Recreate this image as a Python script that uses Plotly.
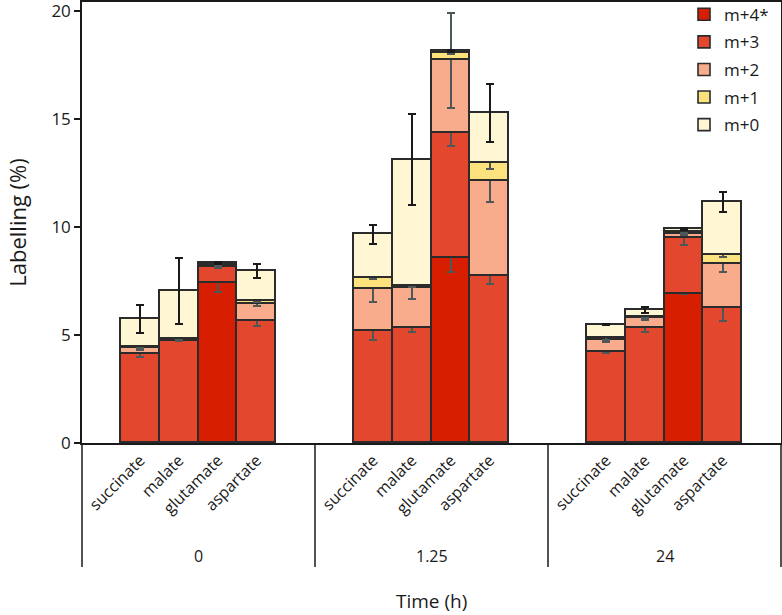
import plotly.graph_objects as go

# ---- data ----
groups = ["0", "1.25", "24"]
metabolites = ["succinate", "malate", "glutamate", "aspartate"]
series_names = ["m+4*", "m+3", "m+2", "m+1", "m+0"]

# segment heights, order: group 0 (succ, mal, glu, asp), group 1.25 (...), group 24 (...)
m4 = [0.0, 0.0, 7.42, 0.0,   0.0, 0.0, 8.56, 0.0,   0.0, 0.0, 6.91, 0.0]
m3 = [4.10, 4.74, 0.73, 5.66,   5.19, 5.34, 5.81, 7.75,   4.20, 5.34, 2.56, 6.24]
m2 = [0.28, 0.04, 0.08, 0.76,   1.93, 1.82, 3.35, 4.36,   0.55, 0.45, 0.21, 2.05]
m1 = [0.06, 0.03, 0.05, 0.15,   0.53, 0.11, 0.32, 0.87,   0.11, 0.06, 0.09, 0.40]
m0 = [1.31, 2.23, 0.07, 1.38,   2.01, 5.85, 0.11, 2.30,   0.62, 0.31, 0.14, 2.45]

e4 = [0.0, 0.0, 0.44, 0.0,   0.0, 0.0, 0.66, 0.0,   0.0, 0.0, 0.02, 0.0]
e3 = [0.10, 0.03, 0.05, 0.25,   0.41, 0.18, 0.62, 0.41,   0.03, 0.20, 0.28, 0.60]
e2 = [0.08, 0.02, 0.10, 0.06,   0.60, 0.50, 2.20, 0.96,   0.05, 0.10, 0.05, 0.35]
e1 = [0.06, 0.02, 0.06, 0.06,   0.05, 0.05, 0.05, 0.30,   0.07, 0.05, 0.05, 0.10]
e0 = [0.66, 1.53, 0.04, 0.33,   0.45, 2.10, 0.04, 1.34,   0.03, 0.12, 0.04, 0.46]

colors = ["#D81E00", "#E3472D", "#F9AC8B", "#FBE27D", "#FFF6D3"]
err_colors = ["#4E5858", "#4E5858", "#4E5858", "#4E5858", "#1A1A1A"]

# ---- x positions (slots: one empty slot at each edge, two between groups) ----
xpos = []
for g in range(3):
    for k in range(4):
        xpos.append(1.5 + g * 6 + k)
ticktext = metabolites * 3

values = [m4, m3, m2, m1, m0]
errors = [e4, e3, e2, e1, e0]

fig = go.Figure()
for name, vals, errs, col, ecol in zip(series_names, values, errors, colors, err_colors):
    fig.add_trace(go.Bar(
        x=xpos, y=vals, name=name, width=1.0,
        marker=dict(color=col, line=dict(color="#2b2b2b", width=1.6)),
        error_y=dict(type="data", array=errs, visible=True,
                     color=ecol, thickness=2, width=4),
        legendgroup=name,
    ))

font_family = "Open Sans, Lato, sans-serif"

fig.update_layout(
    width=782, height=615,
    margin=dict(l=82, r=1, t=2, b=172, autoexpand=False),
    barmode="stack", bargap=0,
    plot_bgcolor="white", paper_bgcolor="white",
    font=dict(family=font_family, size=16, color="#1a1a1a"),
    showlegend=True,
    legend=dict(x=0.99, y=1.012, xanchor="right", yanchor="top",
                traceorder="grouped", tracegroupgap=2.5,
                font=dict(size=17), bgcolor="rgba(0,0,0,0)"),
    xaxis=dict(range=[0, 18], tickvals=xpos, ticktext=ticktext, tickangle=-45,
               showline=True, linecolor="#1a1a1a", linewidth=1.5, mirror=True,
               ticks="", showgrid=False, zeroline=False, automargin=False,
               tickfont=dict(size=16), ticklabeloverflow="allow"),
    yaxis=dict(range=[0, 20.42], tickvals=[0, 5, 10, 15, 20],
               showline=True, linecolor="#1a1a1a", linewidth=1.5, mirror=True,
               ticks="outside", ticklen=6, tickwidth=1.5, tickcolor="#1a1a1a",
               showgrid=False, zeroline=False, automargin=False,
               ticklabeloverflow="allow",
               title=dict(text="Labelling (%)", font=dict(size=22), standoff=19),
               tickfont=dict(size=17)),
)

# category-axis separators (below the plot area)
sep_bottom = -0.281
for xp in [0.0, 6 / 18, 12 / 18, 1.0]:
    fig.add_shape(type="line", xref="paper", yref="paper",
                  x0=xp, x1=xp, y0=0, y1=sep_bottom,
                  line=dict(color="#1a1a1a", width=1.5))

for g, lab in enumerate(groups):
    fig.add_annotation(xref="paper", yref="paper", x=(3 + g * 6) / 18, y=-0.256,
                       text=lab, showarrow=False, font=dict(size=16),
                       xanchor="center", yanchor="middle")

fig.add_annotation(xref="paper", yref="paper", x=(9) / 18, y=-0.358,
                   text="Time (h)", showarrow=False, font=dict(size=19),
                   xanchor="center", yanchor="middle")

fig.write_html("out.html", config={"displayModeBar": False},
               post_script="document.body.style.margin='0';")
